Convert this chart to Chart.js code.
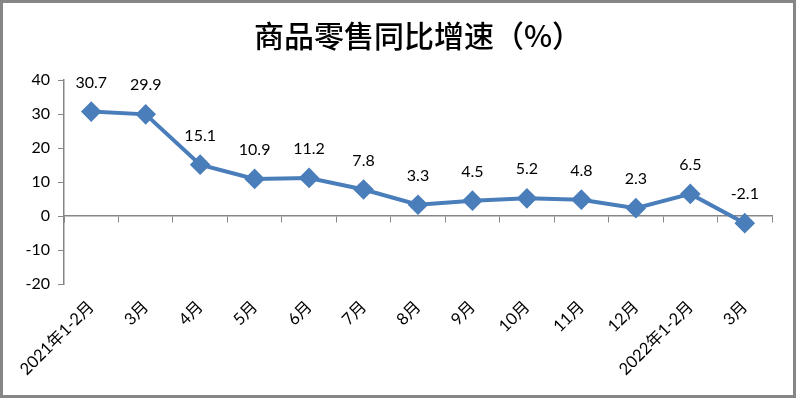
<!DOCTYPE html>
<html><head><meta charset="utf-8">
<script src="https://cdn.jsdelivr.net/npm/chart.js@4"></script>
<style>html,body{margin:0;padding:0;background:#fff}#wrap{width:796px;height:398px;position:relative}</style>
</head><body><div id="wrap"><canvas id="c" width="796" height="398"></canvas></div>
<script>
const title = '商品零售同比增速（%）';
const categories = ['2021年1-2月','3月','4月','5月','6月','7月','8月','9月','10月','11月','12月','2022年1-2月','3月'];
const growth = [30.7, 29.9, 15.1, 10.9, 11.2, 7.8, 3.3, 4.5, 5.2, 4.8, 2.3, 6.5, -2.1];
const yMin = -20, yMax = 40, yStep = 10;

const FONT = "Lato, 'Noto Sans CJK SC', sans-serif";
const BLUE = '#4a7ebb';
const GRAY = '#868686';

const frame = {
  id: 'frame',
  beforeDraw(chart) {
    const ctx = chart.ctx;
    ctx.save();
    ctx.fillStyle = '#fff';
    ctx.fillRect(0, 0, chart.width, chart.height);
    ctx.restore();
  },
  afterDraw(chart) {
    const ctx = chart.ctx;
    ctx.save();
    ctx.strokeStyle = GRAY;
    ctx.lineWidth = 3;
    ctx.strokeRect(1.5, 1.5, chart.width - 3, chart.height - 3);
    ctx.restore();
  }
};

const valueLabels = {
  id: 'valueLabels',
  afterDatasetsDraw(chart) {
    const ctx = chart.ctx;
    const meta = chart.getDatasetMeta(0);
    ctx.save();
    ctx.font = '16px ' + FONT;
    ctx.fillStyle = '#000';
    ctx.textAlign = 'center';
    ctx.textBaseline = 'middle';
    meta.data.forEach((pt, i) => {
      ctx.fillText(String(growth[i]), pt.x, pt.y - 29);
    });
    ctx.restore();
  }
};

new Chart(document.getElementById('c'), {
  type: 'line',
  data: {
    labels: categories,
    datasets: [{
      data: growth,
      xAxisID: 'x',
      yAxisID: 'y',
      borderColor: BLUE,
      backgroundColor: BLUE,
      borderWidth: 4,
      pointStyle: 'rectRot',
      pointRadius: 7.5,
      pointHoverRadius: 7.5,
      pointBackgroundColor: BLUE,
      pointBorderColor: BLUE,
      tension: 0
    }]
  },
  options: {
    responsive: false,
    animation: false,
    events: [],
    layout: { padding: { left: 0, right: 24, top: 0, bottom: 0 } },
    plugins: {
      legend: { display: false },
      tooltip: { enabled: false },
      title: {
        display: true,
        fullSize: false,
        text: title,
        color: '#000',
        font: { family: "'Noto Sans CJK SC', sans-serif", size: 30, weight: '500' },
        padding: { top: 18, bottom: 26 }
      }
    },
    scales: {
      x: {
        type: 'category',
        position: { y: 0 },
        offset: true,
        grid: { display: true, drawOnChartArea: false, drawTicks: true, tickLength: 6, color: GRAY, offset: true },
        border: { display: true, color: GRAY, width: 1.5 },
        ticks: { display: false }
      },
      x2: {
        type: 'category',
        labels: categories,
        position: 'bottom',
        offset: true,
        grid: { display: false, drawTicks: false },
        border: { display: false },
        ticks: { color: '#000', font: { family: FONT, size: 16.5 }, minRotation: 45, maxRotation: 45, padding: 13, autoSkip: false },
        afterFit(s) { s.height = 114; }
      },
      y: {
        min: yMin, max: yMax,
        grid: { display: true, drawOnChartArea: false, drawTicks: true, tickLength: 6, color: GRAY },
        border: { display: true, color: GRAY, width: 1.5 },
        ticks: { stepSize: yStep, color: '#000', font: { family: FONT, size: 16 }, padding: 8 },
        afterFit(s) { s.width = 64; }
      }
    }
  },
  plugins: [frame, valueLabels]
});
</script></body></html>
